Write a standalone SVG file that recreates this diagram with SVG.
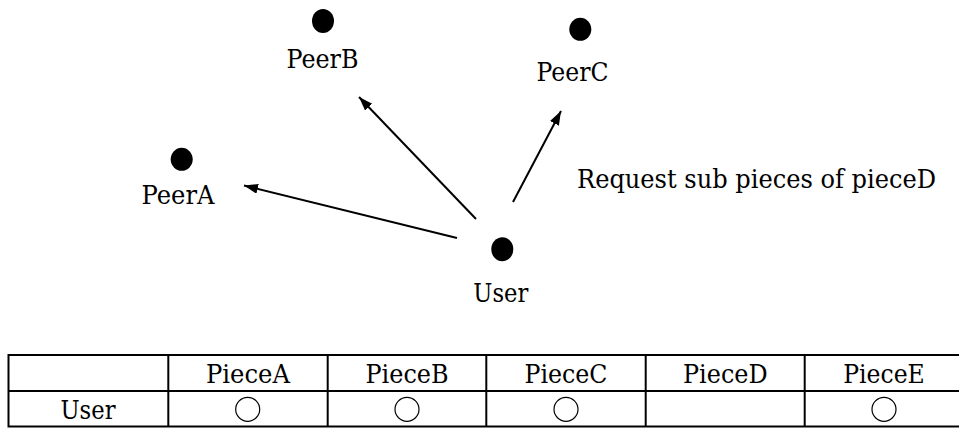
<svg xmlns="http://www.w3.org/2000/svg" width="959" height="428" viewBox="0 0 959 428">
  <defs>
    <marker id="arrow" markerUnits="userSpaceOnUse" markerWidth="15" markerHeight="11" refX="14" refY="5" orient="auto">
      <path d="M0,0 L14,5 L0,10 z" fill="#000"/>
    </marker>
  </defs>
  <style>
    text { font-family: "DejaVu Serif", "Liberation Serif", serif; font-size: 25.5px; fill: #000; }
    .lbl { text-anchor: middle; }
    .dot { fill: #000; }
    .edge { stroke: #000; stroke-width: 2; fill: none; marker-end: url(#arrow); }
    .grid { stroke: #000; stroke-width: 2; fill: none; }
    .mark { stroke: #000; stroke-width: 1.2; fill: none; }
  </style>
  <rect width="959" height="428" fill="#fff"/>

  <g id="peerA">
    <ellipse class="dot" cx="181.7" cy="159.3" rx="11" ry="11.5"/>
    <text class="lbl" x="178" y="204" textLength="73" lengthAdjust="spacingAndGlyphs">PeerA</text>
  </g>
  <g id="peerB">
    <ellipse class="dot" cx="323" cy="21" rx="11" ry="12"/>
    <text class="lbl" x="322.5" y="68" textLength="72" lengthAdjust="spacingAndGlyphs">PeerB</text>
  </g>
  <g id="peerC">
    <ellipse class="dot" cx="580.3" cy="29.3" rx="11" ry="11.5"/>
    <text class="lbl" x="572.5" y="80.7" textLength="72" lengthAdjust="spacingAndGlyphs">PeerC</text>
  </g>
  <g id="user">
    <ellipse class="dot" cx="502.3" cy="249.3" rx="11" ry="12"/>
    <text class="lbl" x="500.8" y="301.7" textLength="55" lengthAdjust="spacingAndGlyphs">User</text>
  </g>
  <g id="note">
    <text x="577" y="188" textLength="359" lengthAdjust="spacingAndGlyphs">Request sub pieces of pieceD</text>
  </g>

  <g id="connectors">
    <line class="edge" x1="457" y1="238" x2="244" y2="185.5"/>
    <line class="edge" x1="476" y1="219" x2="359" y2="97"/>
    <line class="edge" x1="513" y1="202" x2="561" y2="111"/>
  </g>

  <g id="table">
    <rect class="grid" x="8.5" y="355" width="960" height="71.5"/>
    <line class="grid" x1="8.5" y1="391" x2="968" y2="391"/>
    <line class="grid" x1="168.3" y1="355" x2="168.3" y2="426.5"/>
    <line class="grid" x1="327.7" y1="355" x2="327.7" y2="426.5"/>
    <line class="grid" x1="486.3" y1="355" x2="486.3" y2="426.5"/>
    <line class="grid" x1="645.7" y1="355" x2="645.7" y2="426.5"/>
    <line class="grid" x1="804.7" y1="355" x2="804.7" y2="426.5"/>
    <text class="lbl" x="248" y="383.3" textLength="84" lengthAdjust="spacingAndGlyphs">PieceA</text>
    <text class="lbl" x="407" y="383.3" textLength="83" lengthAdjust="spacingAndGlyphs">PieceB</text>
    <text class="lbl" x="566" y="383.3" textLength="83" lengthAdjust="spacingAndGlyphs">PieceC</text>
    <text class="lbl" x="725.3" y="383.3" textLength="84.5" lengthAdjust="spacingAndGlyphs">PieceD</text>
    <text class="lbl" x="884" y="383.3" textLength="81.5" lengthAdjust="spacingAndGlyphs">PieceE</text>
    <text class="lbl" x="88" y="419.3" textLength="55" lengthAdjust="spacingAndGlyphs">User</text>
    <circle class="mark" cx="247.7" cy="409.3" r="12"/>
    <circle class="mark" cx="407" cy="409.3" r="12"/>
    <circle class="mark" cx="566" cy="409.3" r="12"/>
    <circle class="mark" cx="884" cy="409.3" r="12"/>
  </g>
</svg>
